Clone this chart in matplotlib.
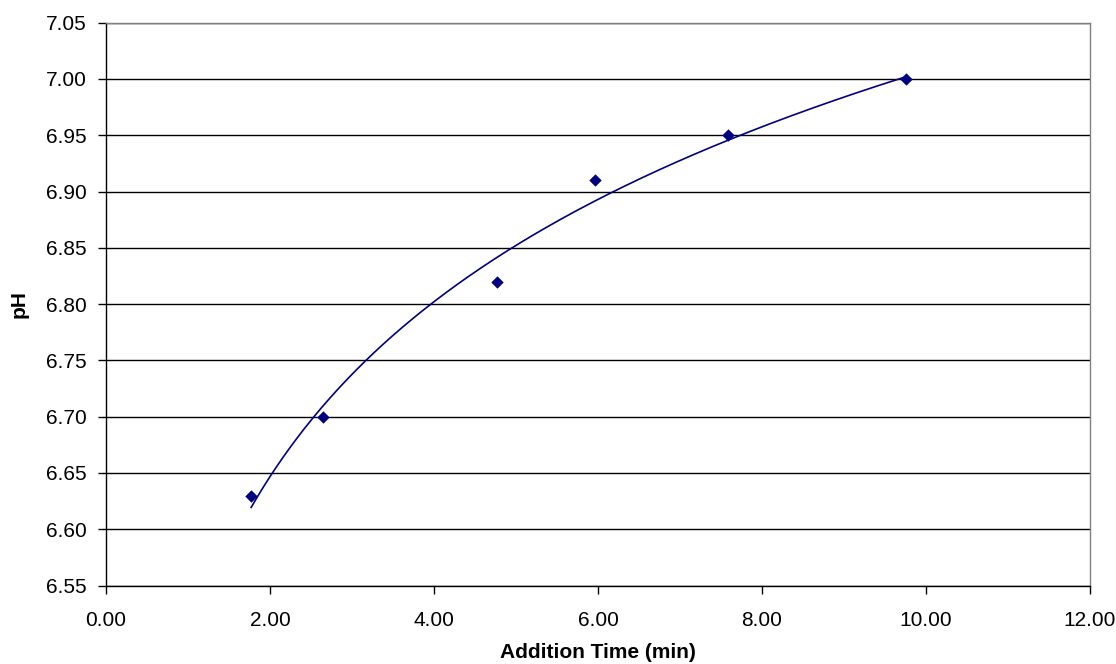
import numpy as np
import matplotlib
matplotlib.use("Agg")
import matplotlib.pyplot as plt
from matplotlib.ticker import FormatStrFormatter

plt.rcParams['font.family'] = ['Liberation Sans', 'DejaVu Sans']

# Measured pH at each addition time
addition_time = [1.77, 2.65, 4.77, 5.96, 7.59, 9.76]
ph = [6.63, 6.70, 6.82, 6.91, 6.95, 7.00]

x_ticks = [0, 2, 4, 6, 8, 10, 12]
y_ticks = [6.55, 6.60, 6.65, 6.70, 6.75, 6.80, 6.85, 6.90, 6.95, 7.00, 7.05]

fig = plt.figure(figsize=(11.16, 6.64), dpi=100)
ax = fig.add_axes([106 / 1116, 1 - 585.6 / 664, (1090 - 106) / 1116, (585.6 - 22.6) / 664])

navy = '#000080'

# Logarithmic trendline fitted by least squares
x = np.array(addition_time)
y = np.array(ph)
a, b = np.polyfit(np.log(x), y, 1)
xs = np.linspace(x.min(), x.max(), 300)
ax.plot(xs, a * np.log(xs) + b, color=navy, lw=1.2, zorder=3)

ax.scatter(addition_time, ph, marker='D', s=40, color=navy, zorder=4, linewidths=0)

ax.set_xlim(0, 12)
ax.set_ylim(6.55, 7.05)
ax.set_xticks(x_ticks)
ax.set_yticks(y_ticks)
ax.xaxis.set_major_formatter(FormatStrFormatter('%.2f'))
ax.yaxis.set_major_formatter(FormatStrFormatter('%.2f'))

ax.grid(axis='y', color='black', lw=1.0, zorder=1)
ax.set_axisbelow(True)

for side in ('top', 'right'):
    ax.spines[side].set_color('#808080')
    ax.spines[side].set_linewidth(1.0)
for side in ('left', 'bottom'):
    ax.spines[side].set_color('black')
    ax.spines[side].set_linewidth(1.0)

ax.tick_params(axis='both', direction='out', length=6, width=1, color='black',
               labelsize=15)
ax.tick_params(axis='y', pad=8)
ax.tick_params(axis='x', pad=12)

ax.set_xlabel('Addition Time (min)', fontsize=15, fontweight='bold', labelpad=10)
ax.set_ylabel('pH', fontsize=15, fontweight='bold', labelpad=12)

fig.savefig('out.png', dpi=100)
